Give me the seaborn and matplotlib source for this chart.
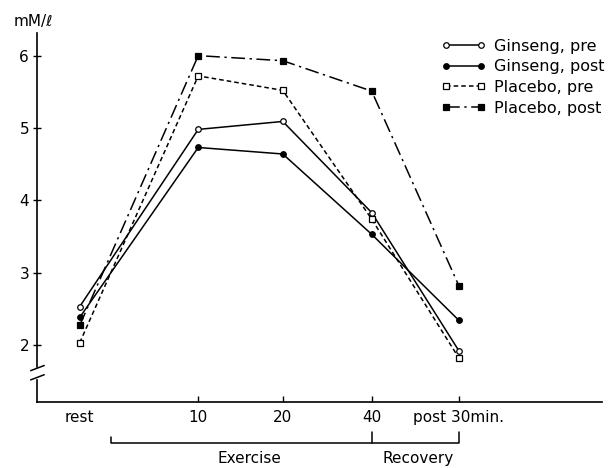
import matplotlib
matplotlib.use('Agg')
import matplotlib.pyplot as plt
import matplotlib.transforms as mtransforms
import seaborn as sns

# ==========================================
# data (mM/l)
# ==========================================
time_labels = ['rest', '10', '20', '40', 'post 30min.']
series_names = ['Ginseng, pre', 'Ginseng, post', 'Placebo, pre', 'Placebo, post']
ginseng_pre = [2.53, 4.98, 5.09, 3.83, 1.92]
ginseng_post = [2.38, 4.73, 4.64, 3.53, 2.34]
placebo_pre = [2.03, 5.72, 5.52, 3.74, 1.82]
placebo_post = [2.27, 6.00, 5.93, 5.51, 2.82]
y_ticks = [2, 3, 4, 5, 6]

# layout: rest sits further away from the exercise points
x_pos = [0, 1.36, 2.33, 3.35, 4.35]

sns.set_style('ticks')
plt.rcParams['font.family'] = ['DejaVu Sans']
plt.rcParams['text.color'] = 'black'
plt.rcParams['xtick.color'] = 'black'
plt.rcParams['ytick.color'] = 'black'
plt.rcParams['axes.labelcolor'] = 'black'

fig = plt.figure(figsize=(6.14, 4.68), dpi=100)
ax = fig.add_axes([0.061, 0.141, 0.919, 0.788])

styles = [
    dict(marker='o', markerfacecolor='white', linestyle='-'),
    dict(marker='o', markerfacecolor='black', linestyle='-'),
    dict(marker='s', markerfacecolor='white', linestyle=(0, (3, 2))),
    dict(marker='s', markerfacecolor='black', linestyle=(0, (9, 3, 1.5, 3))),
]
all_series = [ginseng_pre, ginseng_post, placebo_pre, placebo_post]

for name, vals, st in zip(series_names, all_series, styles):
    sns.lineplot(x=x_pos, y=vals, ax=ax, color='black', linewidth=1.1,
                 markersize=4, markeredgecolor='black', markeredgewidth=0.9,
                 label=name, **st)

ax.set_xlim(-0.485, 5.99)
ax.set_ylim(1.21, 6.31)
ax.set_yticks(y_ticks)
ax.set_xticks(x_pos)
ax.set_xticklabels(time_labels)
ax.tick_params(axis='y', direction='inout', length=6, width=1, labelsize=11, pad=3)
ax.tick_params(axis='x', direction='in', length=4, width=1, labelsize=11, pad=6)
ax.xaxis.get_major_ticks()[0].tick1line.set_visible(False)
sns.despine(ax=ax)
for sp in ['left', 'bottom']:
    ax.spines[sp].set_linewidth(1.2)
    ax.spines[sp].set_color('black')

leg = ax.legend(loc='upper left', bbox_to_anchor=(0.715, 0.985), frameon=False,
                fontsize=11.5, handlelength=2.8, handletextpad=0.5, numpoints=2,
                labelspacing=0.35, borderaxespad=0, borderpad=0)
for t in leg.get_texts():
    t.set_color('black')

fig.text(0.054, 0.953, 'mM/\u2113', ha='center', va='center', fontsize=11)

# y axis break
ax.add_patch(plt.Rectangle((-0.02, 0.066), 0.04, 0.026, transform=ax.transAxes,
                           color='white', clip_on=False, zorder=5))
for y0 in [0.060, 0.085]:
    ax.plot([-0.012, 0.012], [y0, y0 + 0.014], transform=ax.transAxes,
            color='black', lw=1.1, clip_on=False, zorder=6)

# Exercise / Recovery bracket under the time axis
trans = mtransforms.blended_transform_factory(ax.transData, ax.transAxes)
ax.plot([0.36, 0.36, x_pos[4], x_pos[4]], [-0.095, -0.111, -0.111, -0.081],
        transform=trans, color='black', lw=1.1, clip_on=False)
ax.plot([x_pos[3], x_pos[3]], [-0.081, -0.111], transform=trans,
        color='black', lw=1.1, clip_on=False)
ax.text(1.95, -0.152, 'Exercise', transform=trans, ha='center', va='center', fontsize=11)
ax.text(3.88, -0.152, 'Recovery', transform=trans, ha='center', va='center', fontsize=11)

plt.savefig('out.png', dpi=100)
plt.close()
